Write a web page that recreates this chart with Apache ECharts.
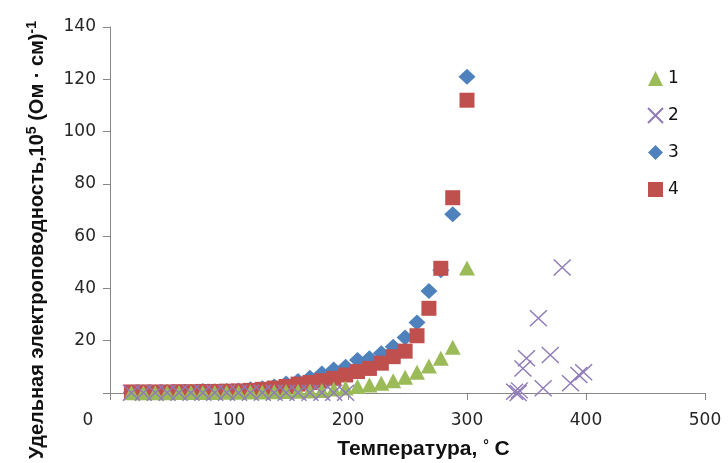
<!DOCTYPE html>
<html>
<head>
<meta charset="utf-8">
<script src="https://cdn.jsdelivr.net/npm/echarts@6/dist/echarts.min.js"></script>
<style>
  html, body { margin: 0; padding: 0; background: #fff; }
  #chart { width: 728px; height: 463px; }
</style>
</head>
<body>
<div id="chart"></div>
<script>
// Temperatures (°C) shared by samples 1, 3 and 4
const temps = [18, 28, 38, 48, 58, 68, 78, 88, 98, 108, 118, 128, 138, 148, 158,
               168, 178, 188, 198, 208, 218, 228, 238, 248, 258, 268, 278, 288, 300];

// Specific conductivity, 10^5 (Ohm·cm)^-1
const sample1 = [0.1, 0.1, 0.1, 0.1, 0.2, 0.2, 0.2, 0.2, 0.3, 0.3, 0.4, 0.4, 0.5, 0.6, 0.7,
                 0.8, 1.0, 1.5, 1.9, 2.5, 3.1, 3.7, 4.7, 6.0, 7.9, 10.3, 13.3, 17.5, 47.8];
const sample3 = [0.3, 0.3, 0.3, 0.4, 0.4, 0.5, 0.8, 0.7, 0.8, 1.0, 1.4, 1.8, 2.5, 3.6, 4.6,
                 5.8, 7.5, 9.0, 10.0, 12.6, 13.3, 15.2, 17.7, 21.2, 27.0, 39.0, 47.0, 68.4, 121.0];
const sample4 = [0.4, 0.4, 0.4, 0.4, 0.5, 0.5, 0.6, 0.6, 0.7, 0.8, 1.0, 1.4, 1.9, 2.5, 3.4,
                 4.0, 4.7, 5.6, 6.9, 8.2, 9.4, 11.4, 13.9, 16.0, 21.9, 32.4, 47.7, 74.7, 112.0];

// Sample 2 was measured on its own temperature grid
const temps2 = [18, 28, 38, 48, 58, 68, 78, 88, 98, 108, 118, 128, 138, 148, 158, 168, 178, 188, 198,
                340, 343, 344, 347, 350, 360, 364, 370, 380, 387, 394, 398];
const sample2 = [0.1, 0.1, 0.1, 0.1, 0.1, 0.1, 0.1, 0.1, 0.1, 0.1, 0.1, 0.1, 0.1, 0.1, 0.1, 0.1, 0.1, 0.1, 0.1,
                 0.5, 0.0, 1.0, 9.4, 13.3, 28.6, 1.8, 14.5, 48.0, 3.7, 6.9, 7.9];

const seriesNames = ['1', '2', '3', '4'];
const xTicks = [0, 100, 200, 300, 400, 500];
const yTicks = [0, 20, 40, 60, 80, 100, 120, 140];

const pairs = (xs, ys) => xs.map((x, i) => [x, ys[i]]);

const tickFont = { fontFamily: 'DejaVu Sans', fontSize: 17, color: '#262626' };
const titleFont = { fontFamily: 'Liberation Sans', fontWeight: 'bold', fontSize: 20, color: '#111' };
const crossPath = 'path://M0,0L10,10M10,0L0,10';

const chart = echarts.init(document.getElementById('chart'), null, { renderer: 'canvas' });

chart.setOption({
  animation: false,
  backgroundColor: '#ffffff',
  grid: { left: 110, right: 23, top: 27, bottom: 70, containLabel: false, outerBoundsMode: 'none' },
  legend: {
    orient: 'vertical',
    left: 642,
    top: 65,
    itemWidth: 15,
    itemHeight: 15,
    itemGap: 20,
    data: seriesNames,
    textStyle: { fontFamily: 'DejaVu Sans', fontSize: 17, color: '#111' }
  },
  xAxis: {
    type: 'value',
    min: xTicks[0],
    max: xTicks[xTicks.length - 1],
    interval: 100,
    name: 'Температура, {deg|°} C',
    nameLocation: 'middle',
    nameGap: 46,
    nameTextStyle: Object.assign({}, titleFont, {
      fontSize: 21,
      padding: [0, 0, 0, 32],
      rich: { deg: Object.assign({}, titleFont, { fontSize: 14, verticalAlign: 'top' }) }
    }),
    splitLine: { show: false },
    axisLine: { show: true, onZero: false, lineStyle: { color: '#868686', width: 1 } },
    axisTick: { show: true, inside: false, length: 7, lineStyle: { color: '#868686' } },
    axisLabel: Object.assign({}, tickFont, {
      margin: 19,
      formatter: v => (v === 0 ? '{z|0}' : String(v)),
      rich: { z: Object.assign({}, tickFont, { padding: [0, 44, 0, 0] }) }
    })
  },
  yAxis: {
    type: 'value',
    min: yTicks[0],
    max: yTicks[yTicks.length - 1],
    interval: 20,
    name: '{t|Удельная электроповодность,10}{s|5}{t| (Ом · см)}{s|-1}',
    nameLocation: 'middle',
    nameRotate: 90,
    nameGap: 60,
    nameTextStyle: Object.assign({}, titleFont, {
      padding: [0, 60, 0, 0],
      rich: {
        t: Object.assign({}, titleFont, { lineHeight: 25 }),
        s: Object.assign({}, titleFont, { fontSize: 14, lineHeight: 25, verticalAlign: 'top' })
      }
    }),
    splitLine: { show: false },
    axisLine: { show: true, lineStyle: { color: '#868686', width: 1 } },
    axisTick: { show: true, inside: false, length: 7, lineStyle: { color: '#868686' } },
    axisLabel: Object.assign({}, tickFont, {
      margin: 14,
      formatter: v => (v === 0 ? '' : String(v))
    })
  },
  series: [
    {
      name: '1', type: 'scatter', z: 3,
      symbol: 'triangle', symbolSize: [16, 15],
      itemStyle: { color: '#9BBB59', opacity: 1 },
      data: pairs(temps, sample1)
    },
    {
      name: '2', type: 'scatter', z: 4,
      symbol: crossPath, symbolSize: [17, 16],
      itemStyle: { color: 'rgba(0,0,0,0)', borderColor: '#8f7bb8', borderWidth: 1.4, opacity: 1 },
      data: pairs(temps2, sample2)
    },
    {
      name: '3', type: 'scatter', z: 1,
      symbol: 'diamond', symbolSize: [17, 16],
      itemStyle: { color: '#4F81BD', opacity: 1 },
      data: pairs(temps, sample3)
    },
    {
      name: '4', type: 'scatter', z: 2,
      symbol: 'rect', symbolSize: [15, 15],
      itemStyle: { color: '#C0504D', opacity: 1 },
      data: pairs(temps, sample4)
    }
  ]
});
</script>
</body>
</html>
